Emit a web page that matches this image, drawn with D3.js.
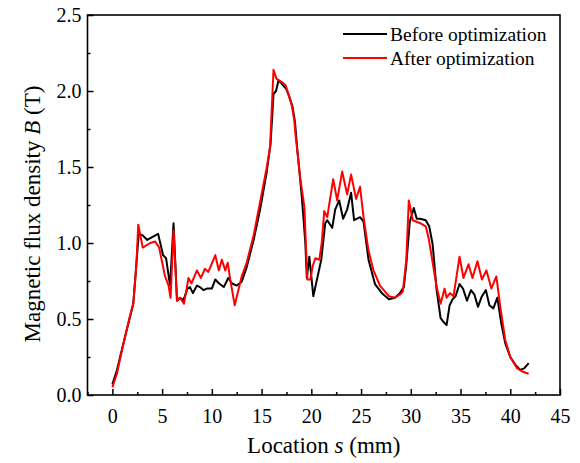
<!DOCTYPE html>
<html>
<head>
<meta charset="utf-8">
<script src="https://cdn.jsdelivr.net/npm/d3@7"></script>
<style>
  html, body { margin: 0; padding: 0; background: #fff; }
  svg { display: block; font-family: "Liberation Serif", "Times New Roman", serif; }
</style>
</head>
<body>
<svg id="chart" width="580" height="463"></svg>
<script>
// ---- Data ----
const seriesNames = ["Before optimization", "After optimization"];
const seriesColors = ["#000000", "#ff0000"];

const beforeS = [0, 0.45, 0.85, 1.3, 1.8, 2.1, 2.4, 2.65, 3.05, 3.5, 4.6, 5.1, 5.4, 5.8, 6.15, 6.5, 6.8, 7.15, 7.55, 7.8, 8.1, 8.5, 8.8, 9.15, 9.5, 10.0, 10.35, 10.7, 11.2, 11.65, 12.0, 12.5, 13.0, 13.5, 14.2, 14.85, 15.5, 15.9, 16.2, 16.45, 16.7, 17.0, 17.5, 17.8, 18.1, 18.35, 18.6, 19.05, 19.4, 19.55, 19.8, 20.2, 20.6, 21.0, 21.4, 21.6, 22.1, 22.4, 22.8, 23.2, 23.6, 24.0, 24.3, 24.9, 25.25, 25.75, 26.4, 27.1, 27.8, 28.4, 28.9, 29.3, 29.55, 29.9, 30.3, 30.6, 30.95, 31.5, 31.85, 32.2, 32.6, 33.0, 33.3, 33.6, 33.9, 34.2, 34.5, 34.9, 35.25, 35.65, 36.05, 36.4, 36.75, 37.15, 37.55, 37.9, 38.3, 38.7, 39.1, 39.5, 40.0, 40.5, 41.0, 41.4, 41.85];
const beforeB = [0.07, 0.16, 0.27, 0.39, 0.52, 0.60, 0.85, 1.06, 1.05, 1.02, 1.06, 0.92, 0.90, 0.72, 1.13, 0.62, 0.64, 0.625, 0.70, 0.71, 0.67, 0.72, 0.71, 0.69, 0.70, 0.70, 0.76, 0.735, 0.71, 0.77, 0.735, 0.72, 0.745, 0.84, 1.02, 1.22, 1.46, 1.65, 1.98, 2.00, 2.07, 2.05, 2.01, 1.96, 1.90, 1.80, 1.61, 1.30, 1.00, 0.77, 0.91, 0.65, 0.77, 0.89, 1.13, 1.15, 1.10, 1.22, 1.28, 1.16, 1.22, 1.33, 1.15, 1.17, 1.14, 0.89, 0.73, 0.67, 0.63, 0.64, 0.67, 0.71, 0.86, 1.14, 1.23, 1.16, 1.16, 1.15, 1.11, 0.99, 0.69, 0.505, 0.48, 0.46, 0.59, 0.63, 0.65, 0.73, 0.70, 0.62, 0.69, 0.66, 0.58, 0.65, 0.69, 0.59, 0.57, 0.64, 0.47, 0.34, 0.25, 0.20, 0.165, 0.175, 0.21];

const afterS = [0, 0.45, 0.85, 1.3, 1.8, 2.1, 2.4, 2.6, 3.05, 3.8, 4.3, 4.7, 5.3, 5.65, 5.85, 6.15, 6.5, 6.8, 7.2, 7.65, 7.95, 8.5, 8.9, 9.3, 9.65, 10.35, 10.7, 11.0, 11.35, 11.6, 11.85, 12.3, 13.0, 13.5, 14.2, 14.85, 15.5, 15.85, 16.2, 16.5, 17.0, 17.4, 17.7, 18.05, 18.3, 18.4, 18.9, 19.3, 19.6, 19.9, 20.15, 20.4, 20.8, 21.05, 21.3, 21.6, 22.2, 22.6, 23.1, 23.6, 24.0, 24.5, 24.9, 25.25, 25.75, 26.25, 26.9, 27.8, 28.4, 28.9, 29.2, 29.55, 29.8, 30.2, 30.95, 31.5, 31.8, 32.2, 32.6, 33.0, 33.4, 33.6, 33.95, 34.3, 34.9, 35.3, 35.8, 36.2, 36.7, 37.15, 37.6, 38.1, 38.6, 39.0, 39.5, 40.0, 40.7, 41.2, 41.85];
const afterB = [0.05, 0.14, 0.26, 0.39, 0.53, 0.60, 0.84, 1.12, 0.97, 1.00, 1.01, 0.97, 0.78, 0.72, 0.64, 1.08, 0.62, 0.64, 0.60, 0.77, 0.735, 0.82, 0.77, 0.83, 0.81, 0.92, 0.82, 0.89, 0.82, 0.87, 0.76, 0.59, 0.78, 0.87, 1.05, 1.27, 1.49, 1.63, 2.14, 2.08, 2.06, 2.04, 1.98, 1.90, 1.80, 1.72, 1.42, 1.24, 0.76, 0.76, 0.85, 0.90, 0.89, 1.00, 1.21, 1.17, 1.42, 1.28, 1.47, 1.32, 1.45, 1.29, 1.37, 1.17, 0.95, 0.82, 0.72, 0.65, 0.64, 0.66, 0.68, 0.89, 1.28, 1.15, 1.13, 1.11, 1.03, 0.87, 0.71, 0.60, 0.70, 0.64, 0.67, 0.65, 0.91, 0.77, 0.86, 0.77, 0.88, 0.76, 0.82, 0.70, 0.78, 0.58, 0.36, 0.25, 0.175, 0.155, 0.14];

const xTicks = [0, 5, 10, 15, 20, 25, 30, 35, 40, 45];
const yTicks = [0.0, 0.5, 1.0, 1.5, 2.0, 2.5];
const xMinorTicks = [-2.5, 2.5, 7.5, 12.5, 17.5, 22.5, 27.5, 32.5, 37.5, 42.5];
const yMinorTicks = [0.25, 0.75, 1.25, 1.75, 2.25];

// ---- Layout ----
const svg = d3.select("#chart");
const L = 87.5, R = 560, T = 15, B = 395;

const x = d3.scaleLinear().domain([-2.5, 45]).range([L, R]);
const y = d3.scaleLinear().domain([0, 2.5]).range([B, T]);

// Lines
const series = [
  beforeS.map((s, i) => [s, beforeB[i]]),
  afterS.map((s, i) => [s, afterB[i]])
];
const line = d3.line().x(d => x(d[0])).y(d => y(d[1]));
series.forEach((pts, i) => {
  svg.append("path")
    .attr("d", line(pts))
    .attr("fill", "none")
    .attr("stroke", seriesColors[i])
    .attr("stroke-width", 2)
    .attr("stroke-linejoin", "round");
});

// Axes (inward ticks)
const xAxis = svg.append("g").attr("transform", `translate(0,${B})`)
  .call(d3.axisBottom(x).tickValues(xTicks).tickSizeInner(-6).tickSizeOuter(0).tickPadding(14).tickFormat(d3.format("d")));
const xMinor = svg.append("g").attr("transform", `translate(0,${B})`)
  .call(d3.axisBottom(x).tickValues(xMinorTicks).tickSizeInner(-3).tickSizeOuter(0).tickFormat(""));
const yAxis = svg.append("g").attr("transform", `translate(${L},0)`)
  .call(d3.axisLeft(y).tickValues(yTicks).tickSizeInner(-6).tickSizeOuter(0).tickPadding(6).tickFormat(d3.format(".1f")));
const yMinor = svg.append("g").attr("transform", `translate(${L},0)`)
  .call(d3.axisLeft(y).tickValues(yMinorTicks).tickSizeInner(-3).tickSizeOuter(0).tickFormat(""));

[xAxis, xMinor, yAxis, yMinor].forEach(g => {
  g.selectAll("path.domain").remove();
  g.selectAll("line").attr("stroke", "#000").attr("stroke-width", 1.5);
  g.selectAll("text").attr("font-family", "Liberation Serif, serif").attr("font-size", 20).attr("fill", "#000");
});
xAxis.selectAll("text").attr("dy", "0.71em");

// Frame
svg.append("rect")
  .attr("x", L).attr("y", T).attr("width", R - L).attr("height", B - T)
  .attr("fill", "none").attr("stroke", "#000").attr("stroke-width", 1.6);

// Axis titles
const xt = svg.append("text")
  .attr("x", (x(-2.5) + x(45)) / 2 + 0).attr("y", 453)
  .attr("text-anchor", "middle").attr("font-size", 23).attr("fill", "#000");
xt.append("tspan").text("Location ");
xt.append("tspan").attr("font-style", "italic").text("s");
xt.append("tspan").text(" (mm)");

const yt = svg.append("text")
  .attr("transform", `translate(40,${214}) rotate(-90)`)
  .attr("text-anchor", "middle").attr("font-size", 23).attr("fill", "#000");
yt.append("tspan").text("Magnetic flux density ");
yt.append("tspan").attr("font-style", "italic").text("B");
yt.append("tspan").text(" (T)");

// Legend
const legY = [34, 58];
seriesNames.forEach((name, i) => {
  svg.append("line")
    .attr("x1", 343).attr("x2", 387).attr("y1", legY[i]).attr("y2", legY[i])
    .attr("stroke", seriesColors[i]).attr("stroke-width", 2);
  svg.append("text")
    .attr("x", 390).attr("y", legY[i]).attr("dy", "0.35em")
    .attr("font-size", 19.5).attr("fill", "#000").text(name);
});
</script>
</body>
</html>
